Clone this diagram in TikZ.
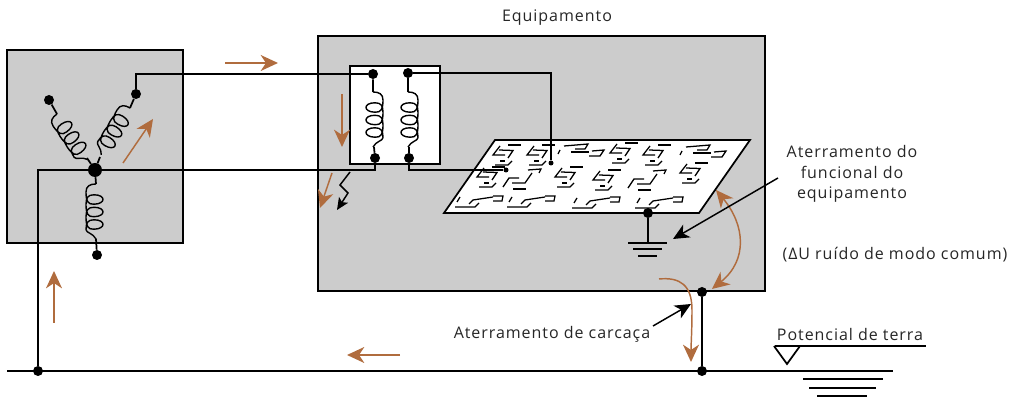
\documentclass[tikz,border=0pt]{standalone}
\usepackage{fontspec}
\setmainfont[LetterSpace=6]{Open Sans}
\usetikzlibrary{arrows.meta}
\definecolor{caseGray}{HTML}{CCCCCC}
\definecolor{flowBrown}{HTML}{B06C3E}
\tikzset{
  wire/.style={line width=1.3pt},
  dot/.style={circle,fill=black,inner sep=0pt,minimum size=#1},
  dot/.default=7.5pt,
  trace/.style={line width=0.95pt},
  flow/.style={color=flowBrown,line width=1.1pt,-{Stealth[length=13pt,width=12pt,inset=4pt]}},
  flowboth/.style={color=flowBrown,line width=1.1pt,{Stealth[length=13pt,width=12pt,inset=4pt]}-{Stealth[length=13pt,width=12pt,inset=4pt]}},
  pointer/.style={line width=1.1pt,-{Stealth[length=12pt,width=11pt,inset=3.5pt]}},
  lbl/.style={font=\fontsize{12pt}{15.5pt}\selectfont,text=black!85,inner sep=0pt,align=center},
  pics/coilpic/.style={code={
    \draw[line width=1.05pt] (0,0) .. controls (6,0) and (10,2) .. (10,8)
      \foreach \c in {15.5,28,40.5} {
        .. controls (10,\c+2) and (8,\c+5) .. (2,\c+4.7)
        .. controls (-10,\c+4.5) and (-10,\c-4.7) .. (2,\c-4.7)
        .. controls (8,\c-4.7) and (10,\c-2) .. (10,\c+5)
      } .. controls (10,49) and (3,49) .. (0,55);
  }},
  pics/tracea/.style={code={
    \draw[trace] (15,-10) -- (28,-10);
    \draw[trace] (7,-9) -- (0,0) -- (12,0);
    \draw[trace] (6,-5) -- (20,-4.5) -- (15,3);
    \draw[trace] (2,10) -- (15,10) -- (19,6);
    \draw[trace] (7,6) -- (12,6);
  }},
  pics/traceb/.style={code={
    \draw[trace] (0,0) -- (6,-9) -- (16,-9);
    \draw[trace] (9,-4) -- (22,-4) -- (29,-14);
    \draw[trace] (25,-17) -- (38,-18) -- (36,-14);
    \draw[trace] (10,2) -- (23,2);
  }},
  pics/tracec/.style={code={
    \draw[trace] (0,0) -- (20,0) -- (24,-4);
    \draw[trace] (5,-10) -- (2,-5);
    \draw[trace] (14,-3) -- (18,-7) -- (38,-10);
    \draw[trace] (38,-11) -- (48,-11) -- (47,-6) -- (38,-6);
  }},
  pics/traced/.style={code={
    \draw[trace] (0,0) -- (2,-4);
    \draw[trace] (6,-8) -- (30,-10) -- (27,-5) -- (17,-5);
    \draw[trace] (13,-2) -- (31,-2);
    \draw[trace] (31,2) -- (42,2) -- (46,-4) -- (34,-3);
  }},
}

\begin{document}
\begin{tikzpicture}[x=0.75pt,y=-0.75pt]
  \path[use as bounding box] (0,0) rectangle (1015,398);
  % boxes
  \node[draw,wire,fill=caseGray,minimum width=132pt,minimum height=144.75pt,inner sep=0pt] (source) at (95,146.5) {};
  \node[draw,wire,fill=caseGray,minimum width=335.25pt,minimum height=191.25pt,inner sep=0pt] (equip) at (541.5,163.5) {};
  \node[draw,wire,fill=white,minimum width=67.5pt,minimum height=73.5pt,inner sep=0pt] (trafo) at (395,115) {};
  \draw[wire,fill=white] (495,140) coordinate (b1) -- (750,140) coordinate (b2) -- (699,213) coordinate (b3) -- (444,213) coordinate (b4) -- cycle;
  % board traces
  \foreach \px/\py in {493/155,527/155,610/153,643/155,477/177,555/177,593/180,680/173}
    \pic at (\px,\py) {tracea};
  \foreach \px/\py in {503/187,628/188}
    \pic at (\px,\py) {traceb};
  \foreach \px/\py in {455/207,507/207,572/208,635/208}
    \pic at (\px,\py) {tracec};
  \foreach \px/\py in {558/154,680/155}
    \pic at (\px,\py) {traced};
  % star
  \node[dot=10.5pt] (star) at (95,170) {};
  \node[dot] (starA) at (49,100) {};
  \node[dot] (starB) at (136,94) {};
  \node[dot] (starC) at (97,255) {};
  \coordinate (coilA1) at (57,114);
  \coordinate (coilA2) at (87,158);
  \coordinate (coilB1) at (130,108);
  \coordinate (coilB2) at (100,157);
  \coordinate (coilC1) at (96,184);
  \coordinate (coilC2) at (96,239);
  \draw[wire] (starA) -- (coilA1) (coilA2) -- (star);
  \draw[wire] (starB) -- (coilB1) (coilB2) -- (star);
  \draw[wire] (star) -- (coilC1) (coilC2) -- (starC);
  \pic[rotate=34,xscale=-1] at (coilA1) {coilpic};
  \pic[rotate=-31.5,xscale=-1] at (coilB1) {coilpic};
  \pic[xscale=-1] at (coilC1) {coilpic};
  % transformer
  \node[dot] (t1) at (373,74) {};
  \node[dot] (t2) at (408,73) {};
  \node[dot] (t3) at (375,158) {};
  \node[dot] (t4) at (409,158) {};
  \coordinate (coilT1) at (373,92);
  \coordinate (coilT2) at (374,147);
  \coordinate (coilT3) at (408,92);
  \coordinate (coilT4) at (409,147);
  \draw[wire] (t1) -- (coilT1) (coilT2) -- (t3);
  \draw[wire] (t2) -- (coilT3) (coilT4) -- (t4);
  \pic at (coilT1) {coilpic};
  \pic at (coilT3) {coilpic};
  % wiring
  \node[dot=3.75pt] (pad1) at (551,163) {};
  \node[dot=3.75pt] (pad2) at (506,170) {};
  \node[dot] (earth1) at (38,371) {};
  \node[dot] (earth2) at (702,371) {};
  \node[dot] (frame) at (702,292) {};
  \node[dot] (gnd) at (648,213) {};
  \draw[wire] (starB) |- (t1);
  \draw[wire] (t2) -| (pad1);
  \draw[wire] (t3) |- (star);
  \draw[wire] (t4) |- (pad2);
  \draw[wire] (star) -| (earth1);
  \draw[wire] (frame) -- (earth2);
  \draw[wire] (gnd) -- (648,243) coordinate (gndbar);
  \draw[wire] (628,243) -- (667,243) (633,249) -- (662,249) (638,256) -- (657,256);
  \draw[line width=1.5pt] (7,371) -- (893,371);
  % fault
  \coordinate (leak) at (350,172);
  \draw[line width=1.1pt,-{Stealth[length=9pt,width=8pt,inset=2pt]}] (leak) -- (340,185) -- (348,193) -- (337,210);
  % reference level
  \draw[wire] (775,346) -- (926,346);
  \draw[wire] (774,346) -- (787,364) -- (800,346);
  \draw[wire] (803,379) -- (883,379) (809,388) -- (876,388) (817,396) -- (867,396);
  % flows
  \draw[flow] (225,63) -- (278,63);
  \draw[flow] (342,94) -- (342,147);
  \draw[flow] (332,173) -- (320,208);
  \draw[flow] (123,163) -- (153,119);
  \draw[flow] (54,323) -- (54,271);
  \draw[flow] (400,355) -- (347,355);
  \draw[flowboth] (716,190) .. controls (745,225) and (748,260) .. (712,289);
  \draw[flow] (659,279) .. controls (680,277) and (692,285) .. (692,310) .. controls (692,330) and (691,345) .. (691,362);
  % labels
  \coordinate (tagA) at (778,178);
  \coordinate (tagB) at (653,326);
  \draw[pointer] (tagA) -- (673,239);
  \draw[pointer] (tagB) -- (691,304);
  \node[lbl] (equipname) at (557,18) {Equipamento};
  \node[lbl] (functag) at (852,174) {Aterramento do\\funcional do\\equipamento};
  \node[lbl] (noisetag) at (895,255) {(ΔU ruído de modo comum)};
  \node[lbl] (frametag) at (552,334) {Aterramento de carcaça};
  \node[lbl] (earthtag) at (850,335) {Potencial de terra};
\end{tikzpicture}
\end{document}
